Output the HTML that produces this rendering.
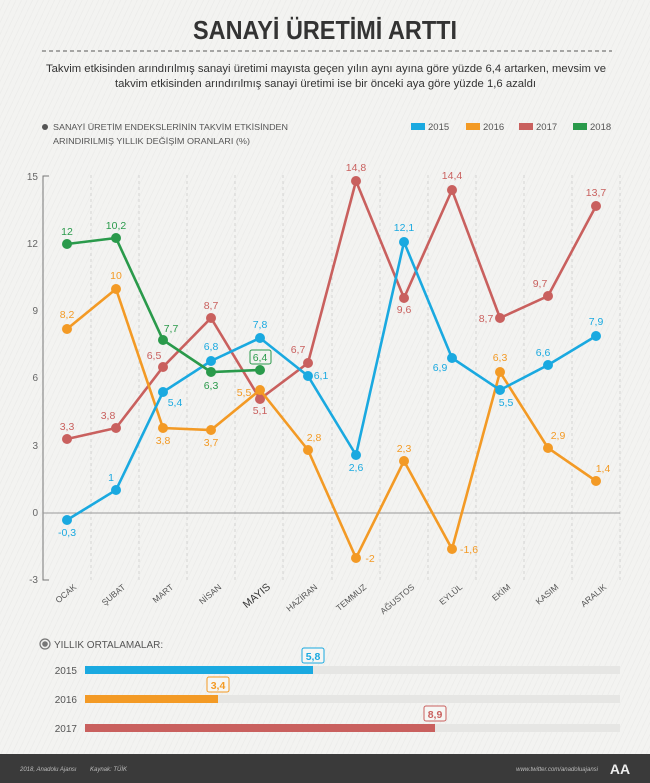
<!DOCTYPE html>
<html><head><meta charset="utf-8"><style>
html,body{margin:0;padding:0}
body{width:650px;height:783px;position:relative;overflow:hidden;font-family:"Liberation Sans",sans-serif;
background:#f3f3f1 repeating-linear-gradient(115deg,rgba(0,0,0,0) 0 4px,rgba(0,0,0,0.025) 4px 5px);}
svg{position:absolute;left:0;top:0}
</style></head><body>
<svg width="650" height="783" viewBox="0 0 650 783" font-family="Liberation Sans, sans-serif">
<text x="193" y="39" font-size="26" font-weight="bold" fill="#333" textLength="264" lengthAdjust="spacingAndGlyphs">SANAYİ ÜRETİMİ ARTTI</text>
<line x1="42" y1="51" x2="612" y2="51" stroke="#777" stroke-width="1.2" stroke-dasharray="4,3"/>
<text x="46" y="72" font-size="11" fill="#333" textLength="560" lengthAdjust="spacingAndGlyphs">Takvim etkisinden arındırılmış sanayi üretimi mayısta geçen yılın aynı ayına göre yüzde 6,4 artarken, mevsim ve</text>
<text x="115" y="87" font-size="11" fill="#333" textLength="421" lengthAdjust="spacingAndGlyphs">takvim etkisinden arındırılmış sanayi üretimi ise bir önceki aya göre yüzde 1,6 azaldı</text>
<circle cx="45" cy="127" r="3" fill="#555"/>
<text x="53" y="130" font-size="8.6" fill="#555" textLength="235" lengthAdjust="spacingAndGlyphs">SANAYİ ÜRETİM ENDEKSLERİNİN TAKVİM ETKİSİNDEN</text>
<text x="53" y="144" font-size="8.6" fill="#555" textLength="197" lengthAdjust="spacingAndGlyphs">ARINDIRILMIŞ YILLIK DEĞİŞİM ORANLARI (%)</text>
<rect x="411" y="123" width="14" height="7" fill="#1aa9e0"/><text x="428" y="130" font-size="9.5" fill="#555">2015</text>
<rect x="466" y="123" width="14" height="7" fill="#f39a25"/><text x="483" y="130" font-size="9.5" fill="#555">2016</text>
<rect x="519" y="123" width="14" height="7" fill="#c9605e"/><text x="536" y="130" font-size="9.5" fill="#555">2017</text>
<rect x="573" y="123" width="14" height="7" fill="#2a9a4b"/><text x="590" y="130" font-size="9.5" fill="#555">2018</text>

<g stroke="#ccc" stroke-dasharray="3,3" stroke-width="0.8">
<line x1="91" y1="175" x2="91" y2="580"/><line x1="139" y1="175" x2="139" y2="580"/><line x1="187" y1="175" x2="187" y2="580"/><line x1="235" y1="175" x2="235" y2="580"/><line x1="283" y1="175" x2="283" y2="580"/><line x1="332" y1="175" x2="332" y2="580"/><line x1="380" y1="175" x2="380" y2="580"/><line x1="428" y1="175" x2="428" y2="580"/><line x1="476" y1="175" x2="476" y2="580"/><line x1="524" y1="175" x2="524" y2="580"/><line x1="572" y1="175" x2="572" y2="580"/><line x1="620" y1="175" x2="620" y2="580"/>
</g>
<path d="M49 176 H43 V580 H49" fill="none" stroke="#777" stroke-width="1"/>
<line x1="43" y1="513" x2="620" y2="513" stroke="#999" stroke-width="1"/>
<g font-size="10" fill="#666" text-anchor="end">
<text x="38" y="180">15</text><text x="38" y="247">12</text><text x="38" y="314">9</text><text x="38" y="381">6</text><text x="38" y="449">3</text><text x="38" y="516">0</text><text x="38" y="583">-3</text>
</g>
<g font-size="8.5" fill="#555" text-anchor="end">
<text transform="translate(77,588) rotate(-40)">OCAK</text>
<text transform="translate(126,588) rotate(-40)">ŞUBAT</text>
<text transform="translate(174,588) rotate(-40)">MART</text>
<text transform="translate(222,588) rotate(-40)">NİSAN</text>
<text transform="translate(271,588) rotate(-40)" font-size="10.5" fill="#333">MAYIS</text>
<text transform="translate(318,588) rotate(-40)">HAZİRAN</text>
<text transform="translate(367,588) rotate(-40)">TEMMUZ</text>
<text transform="translate(415,588) rotate(-40)">AĞUSTOS</text>
<text transform="translate(463,588) rotate(-40)">EYLÜL</text>
<text transform="translate(511,588) rotate(-40)">EKİM</text>
<text transform="translate(559,588) rotate(-40)">KASIM</text>
<text transform="translate(607,588) rotate(-40)">ARALIK</text>
</g>

<!-- 2017 red -->
<g fill="#c9605e" stroke="#c9605e">
<polyline fill="none" stroke-width="2.6" points="67,439 116,428 163,367 211,318 260,399 308,363 356,181 404,298 452,190 500,318 548,296 596,206"/>
<g stroke="none"><circle cx="67" cy="439" r="5"/><circle cx="116" cy="428" r="5"/><circle cx="163" cy="367" r="5"/><circle cx="211" cy="318" r="5"/><circle cx="260" cy="399" r="5"/><circle cx="308" cy="363" r="5"/><circle cx="356" cy="181" r="5"/><circle cx="404" cy="298" r="5"/><circle cx="452" cy="190" r="5"/><circle cx="500" cy="318" r="5"/><circle cx="548" cy="296" r="5"/><circle cx="596" cy="206" r="5"/></g>
<g stroke="none" font-size="10.5" text-anchor="middle">
<text x="67" y="430">3,3</text><text x="108" y="419">3,8</text><text x="154" y="359">6,5</text><text x="211" y="309">8,7</text><text x="260" y="414">5,1</text><text x="298" y="353">6,7</text><text x="356" y="171">14,8</text><text x="404" y="313">9,6</text><text x="452" y="179">14,4</text><text x="486" y="322">8,7</text><text x="540" y="287">9,7</text><text x="596" y="196">13,7</text>
</g></g>

<!-- 2016 orange -->
<g fill="#f39a25" stroke="#f39a25">
<polyline fill="none" stroke-width="2.6" points="67,329 116,289 163,428 211,430 260,390 308,450 356,558 404,461 452,549 500,372 548,448 596,481"/>
<g stroke="none"><circle cx="67" cy="329" r="5"/><circle cx="116" cy="289" r="5"/><circle cx="163" cy="428" r="5"/><circle cx="211" cy="430" r="5"/><circle cx="260" cy="390" r="5"/><circle cx="308" cy="450" r="5"/><circle cx="356" cy="558" r="5"/><circle cx="404" cy="461" r="5"/><circle cx="452" cy="549" r="5"/><circle cx="500" cy="372" r="5"/><circle cx="548" cy="448" r="5"/><circle cx="596" cy="481" r="5"/></g>
<g stroke="none" font-size="10.5" text-anchor="middle">
<text x="67" y="318">8,2</text><text x="116" y="279">10</text><text x="163" y="444">3,8</text><text x="211" y="446">3,7</text><text x="244" y="396">5,5</text><text x="314" y="441">2,8</text><text x="370" y="562">-2</text><text x="404" y="452">2,3</text><text x="469" y="553">-1,6</text><text x="500" y="361">6,3</text><text x="558" y="439">2,9</text><text x="603" y="472">1,4</text>
</g></g>

<!-- 2015 blue -->
<g fill="#1aa9e0" stroke="#1aa9e0">
<polyline fill="none" stroke-width="2.6" points="67,520 116,490 163,392 211,361 260,338 308,376 356,455 404,242 452,358 500,390 548,365 596,336"/>
<g stroke="none"><circle cx="67" cy="520" r="5"/><circle cx="116" cy="490" r="5"/><circle cx="163" cy="392" r="5"/><circle cx="211" cy="361" r="5"/><circle cx="260" cy="338" r="5"/><circle cx="308" cy="376" r="5"/><circle cx="356" cy="455" r="5"/><circle cx="404" cy="242" r="5"/><circle cx="452" cy="358" r="5"/><circle cx="500" cy="390" r="5"/><circle cx="548" cy="365" r="5"/><circle cx="596" cy="336" r="5"/></g>
<g stroke="none" font-size="10.5" text-anchor="middle">
<text x="67" y="536">-0,3</text><text x="111" y="481">1</text><text x="175" y="406">5,4</text><text x="211" y="350">6,8</text><text x="260" y="328">7,8</text><text x="321" y="379">6,1</text><text x="356" y="471">2,6</text><text x="404" y="231">12,1</text><text x="440" y="371">6,9</text><text x="506" y="406">5,5</text><text x="543" y="356">6,6</text><text x="596" y="325">7,9</text>
</g></g>

<!-- 2018 green -->
<g fill="#2a9a4b" stroke="#2a9a4b">
<polyline fill="none" stroke-width="2.6" points="67,244 116,238 163,340 211,372 260,370"/>
<g stroke="none"><circle cx="67" cy="244" r="5"/><circle cx="116" cy="238" r="5"/><circle cx="163" cy="340" r="5"/><circle cx="211" cy="372" r="5"/><circle cx="260" cy="370" r="5"/></g>
<g stroke="none" font-size="10.5" text-anchor="middle">
<text x="67" y="235">12</text><text x="116" y="229">10,2</text><text x="171" y="332">7,7</text><text x="211" y="389">6,3</text>
</g>
<rect x="250" y="350" width="21" height="14" rx="2" fill="none" stroke-width="1"/>
<text x="260" y="361" stroke="none" font-size="10.5" text-anchor="middle">6,4</text>
</g>

<!-- averages -->
<circle cx="45" cy="644" r="5" fill="none" stroke="#777" stroke-width="1.2"/><circle cx="45" cy="644" r="2.8" fill="#777"/>
<text x="54" y="648" font-size="10" fill="#555">YILLIK ORTALAMALAR:</text>
<g font-size="10" fill="#555" text-anchor="end">
<text x="77" y="674">2015</text><text x="77" y="703">2016</text><text x="77" y="732">2017</text>
</g>
<rect x="85" y="666" width="535" height="8" fill="#e6e6e4"/>
<rect x="85" y="695" width="535" height="8" fill="#e6e6e4"/>
<rect x="85" y="724" width="535" height="8" fill="#e6e6e4"/>
<rect x="85" y="666" width="228" height="8" fill="#1aa9e0"/>
<rect x="85" y="695" width="133" height="8" fill="#f39a25"/>
<rect x="85" y="724" width="350" height="8" fill="#c9605e"/>
<rect x="302" y="648" width="22" height="15" rx="2" fill="#f6f6f4" stroke="#1aa9e0"/>
<text x="313" y="660" font-size="10.5" font-weight="bold" fill="#1aa9e0" text-anchor="middle">5,8</text>
<rect x="207" y="677" width="22" height="15" rx="2" fill="#f6f6f4" stroke="#f39a25"/>
<text x="218" y="689" font-size="10.5" font-weight="bold" fill="#f39a25" text-anchor="middle">3,4</text>
<rect x="424" y="706" width="22" height="15" rx="2" fill="#f6f6f4" stroke="#c9605e"/>
<text x="435" y="718" font-size="10.5" font-weight="bold" fill="#c9605e" text-anchor="middle">8,9</text>

<rect x="0" y="754" width="650" height="29" fill="#3a3a3a"/>
<text x="20" y="771" font-size="6" font-style="italic" fill="#bbb">2018, Anadolu Ajansı</text>
<text x="90" y="771" font-size="6" font-style="italic" fill="#bbb">Kaynak: TÜİK</text>
<text x="598" y="771" font-size="6" font-style="italic" fill="#bbb" text-anchor="end">www.twitter.com/anadoluajansi</text>
<text x="620" y="774" font-size="14" font-weight="bold" fill="#eee" text-anchor="middle">AA</text>
</svg>
</body></html>
